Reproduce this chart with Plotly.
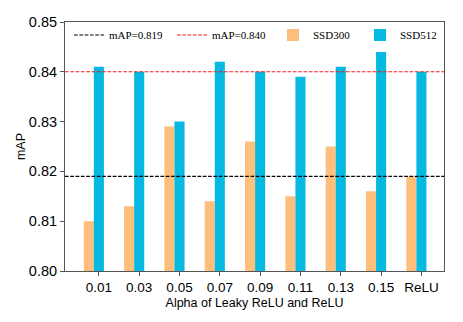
import plotly.graph_objects as go

categories = ["0.01", "0.03", "0.05", "0.07", "0.09", "0.11", "0.13", "0.15", "ReLU"]
ssd300 = [0.810, 0.813, 0.829, 0.814, 0.826, 0.815, 0.825, 0.816, 0.819]
ssd512 = [0.841, 0.840, 0.830, 0.842, 0.840, 0.839, 0.841, 0.844, 0.840]
ref_lines = [("mAP=0.819", 0.819, "black"), ("mAP=0.840", 0.840, "#f02020")]

idx = list(range(len(categories)))
w = 0.25
xmin, xmax = -0.59, 8.81

L, R, T, B = 65, 19, 22, 51
W, H = 463, 322
pw = W - L - R

def lx(px):
    return (px - L) / pw

# legend item start positions (px) and shared vertical centre
leg_x = [69, 172, 273, 360]
leg_y = (H - B - 35) / (H - T - B)

fig = go.Figure()
names = ["legend", "legend2", "legend3", "legend4"]
for k, (name, val, col) in enumerate(ref_lines):
    fig.add_trace(go.Scatter(x=[xmin, xmax], y=[val, val], mode="lines", name=name,
                             legend=names[k],
                             line=dict(color=col, width=1.1, dash="3.7px,1.6px")))
fig.add_trace(go.Bar(x=idx, y=ssd300, width=w, name="SSD300", legend=names[2],
                     marker=dict(color="#FEBE7C", line=dict(width=0)), base=0))
fig.add_trace(go.Bar(x=[i + w for i in idx], y=ssd512, width=w, name="SSD512", legend=names[3],
                     marker=dict(color="#06B9E1", line=dict(width=0)), base=0))

leg_common = dict(xanchor="left", yanchor="middle", orientation="h",
                  font=dict(family="Liberation Serif", size=11, color="black"),
                  bgcolor="rgba(255,255,255,0)", borderwidth=0)
legends = {}
for k, nm in enumerate(names):
    legends[nm] = dict(x=lx(leg_x[k]), y=leg_y, **leg_common)

fig.update_layout(
    width=W, height=H,
    margin=dict(l=L, r=R, t=T, b=B, autoexpand=False),
    plot_bgcolor="white", paper_bgcolor="white",
    barmode="overlay",
    showlegend=True,
    font=dict(family="Liberation Sans", color="black"),
    **legends,
)
fig.update_xaxes(range=[xmin, xmax], tickvals=[i + w for i in idx], ticktext=categories,
                 showgrid=False, zeroline=False, showline=True, linecolor="#555555",
                 linewidth=1, mirror=True, ticks="outside", ticklen=4, tickcolor="#555555",
                 tickfont=dict(size=13.5), automargin=False,
                 title=dict(text="Alpha of Leaky ReLU and ReLU", font=dict(size=12.5), standoff=4))
fig.update_yaxes(range=[0.80, 0.85], tickvals=[0.80, 0.81, 0.82, 0.83, 0.84, 0.85],
                 tickformat=".2f", showgrid=False, zeroline=False, showline=True,
                 linecolor="#555555", linewidth=1, mirror=True, ticks="outside",
                 ticklen=4, tickcolor="#555555", tickfont=dict(size=14.5), automargin=False,
                 title=dict(text="mAP", font=dict(size=12.5), standoff=0))

fig.write_html("out.html", config={"displayModeBar": False},
               post_script="document.body.style.margin='0';")
